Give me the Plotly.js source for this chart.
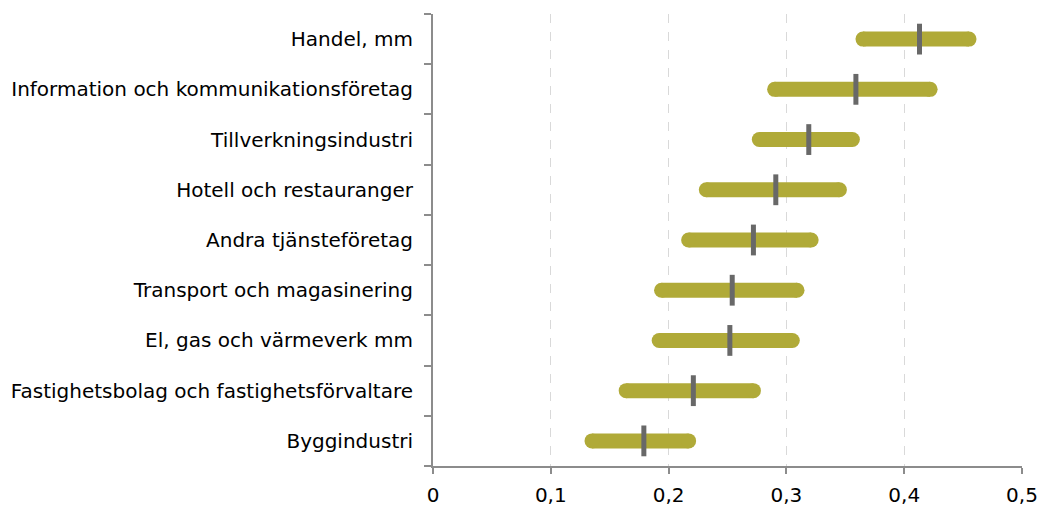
<!DOCTYPE html>
<html>
<head>
<meta charset="utf-8">
<script src="https://cdn.plot.ly/plotly-3.0.1.min.js"></script>
<style>html,body{margin:0;padding:0;background:#fff;}#chart{width:1040px;height:510px;}</style>
</head>
<body>
<div id="chart"></div>
<script>
// Categories, top to bottom
const categories = [
  "Handel, mm",
  "Information och kommunikationsföretag",
  "Tillverkningsindustri",
  "Hotell och restauranger",
  "Andra tjänsteföretag",
  "Transport och magasinering",
  "El, gas och värmeverk mm",
  "Fastighetsbolag och fastighetsförvaltare",
  "Byggindustri"
];
const lowValues  = [0.365, 0.290, 0.277, 0.232, 0.217, 0.194, 0.192, 0.164, 0.135];
const highValues = [0.455, 0.422, 0.356, 0.345, 0.321, 0.309, 0.305, 0.272, 0.217];
const midValues  = [0.413, 0.359, 0.319, 0.291, 0.272, 0.254, 0.252, 0.221, 0.179];
const xTickVals = [0, 0.1, 0.2, 0.3, 0.4, 0.5];

const olive = '#b0aa38';
const traces = [];
categories.forEach((c, i) => {
  traces.push({
    type: 'scatter', mode: 'lines+markers',
    x: [lowValues[i], highValues[i]], y: [c, c],
    line: {color: olive, width: 15},
    marker: {color: olive, size: 15, symbol: 'circle', line: {width: 0}},
    hoverinfo: 'skip', showlegend: false
  });
});
traces.push({
  type: 'scatter', mode: 'markers',
  x: midValues, y: categories,
  marker: {symbol: 'line-ns', size: 22, line: {color: '#686868', width: 5}, color: '#686868'},
  showlegend: false
});

const layout = {
  width: 1040, height: 510,
  margin: {l: 433, r: 18, t: 14, b: 44},
  paper_bgcolor: '#fff', plot_bgcolor: '#fff',
  separators: ', ',
  font: {family: 'DejaVu Sans, Verdana, sans-serif', size: 20, color: '#000'},
  showlegend: false,
  xaxis: {
    range: [0, 0.5], tickvals: xTickVals, ticktext: xTickVals.map(v => String(v).replace('.', ',')),
    showgrid: true, gridcolor: '#d9d9d9', griddash: 'dash', gridwidth: 1,
    zeroline: false, showline: true, linecolor: '#8c8c8c', linewidth: 2,
    ticks: 'outside', ticklen: 6, tickcolor: '#8c8c8c', tickwidth: 2,
    ticklabelstandoff: 4,
    tickfont: {size: 20}
  },
  yaxis: {
    type: 'category', categoryorder: 'array', categoryarray: categories.slice().reverse(),
    range: [-0.5, categories.length - 0.5],
    showgrid: false, zeroline: false, showline: true, linecolor: '#8c8c8c', linewidth: 2,
    ticks: 'outside', tickson: 'boundaries', ticklen: 7, tickcolor: '#8c8c8c', tickwidth: 2,
    ticklabelstandoff: 14,
    tickfont: {size: 20}
  }
};
Plotly.newPlot('chart', traces, layout, {staticPlot: true});
</script>
</body>
</html>
